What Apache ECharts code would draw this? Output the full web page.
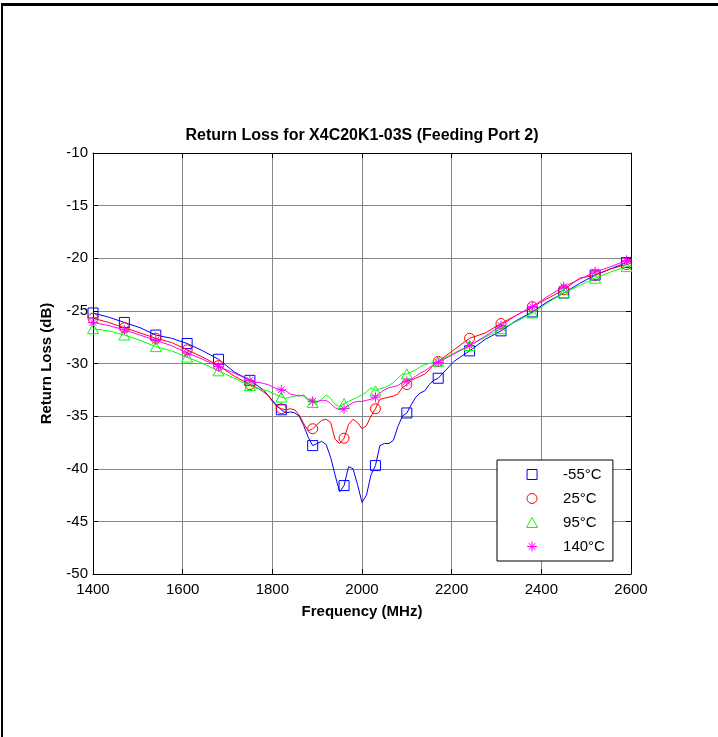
<!DOCTYPE html>
<html>
<head>
<meta charset="utf-8">
<title>Return Loss for X4C20K1-03S (Feeding Port 2)</title>
<script src="https://cdn.jsdelivr.net/npm/echarts@6/dist/echarts.min.js"></script>
<style>
  html, body { margin: 0; padding: 0; background: #fff; }
  #chart { position: absolute; left: 0; top: 0; width: 718px; height: 737px; }
  #frame { position: absolute; left: 1px; top: 3px; width: 717px; height: 734px;
           border-top: 3px solid #000; border-left: 2px solid #000; box-sizing: border-box;
           pointer-events: none; }
</style>
</head>
<body>
<div id="chart"></div>
<div id="frame"></div>
<script>
// Frequency grid (MHz): coarse on the flanks, 10 MHz through the resonance dip
const FREQ = [
  1400, 1435, 1470, 1505, 1540, 1575, 1610, 1645, 1680, 1715,
  1750, 1760, 1770, 1780, 1790, 1800, 1810, 1820, 1830, 1840, 1850, 1860, 1870, 1880,
  1890, 1900, 1910, 1920, 1930, 1940, 1950, 1960, 1970, 1980, 1990, 2000, 2010, 2020,
  2030, 2040, 2050, 2060, 2070, 2080, 2090, 2100, 2110, 2120, 2130, 2140, 2150, 2160,
  2170, 2205, 2240, 2275, 2310, 2345, 2380, 2415, 2450, 2485, 2520, 2555, 2590, 2600
];

// Return loss (dB) per temperature
const RL_M55 = [
  -25.2, -25.6, -26.1, -26.6, -27.3, -27.6, -28.1, -28.8, -29.6, -30.8,
  -31.6, -31.9, -32.2, -32.5, -33.0, -33.5, -34.0, -34.4, -34.7, -34.6, -34.7, -35.0, -35.9, -37.0,
  -37.8, -37.6, -37.4, -37.7, -38.9, -40.6, -42.2, -41.6, -39.8, -40.0, -41.5, -43.2, -42.5, -40.6,
  -39.7, -37.8, -37.6, -37.6, -37.3, -36.0, -35.0, -34.7, -33.9, -33.2, -32.8, -32.6, -32.0, -31.6,
  -31.4, -29.8, -28.8, -27.7, -26.9, -25.9, -25.1, -24.1, -23.3, -22.4, -21.6, -21.0, -20.4, -20.3
];
const RL_25 = [
  -25.7, -26.1, -26.6, -27.1, -27.6, -28.0, -28.7, -29.4, -30.2, -31.2,
  -32.0, -32.2, -32.4, -32.7, -33.0, -33.6, -34.1, -34.3, -34.4, -34.3, -34.4, -34.9, -35.7, -36.4,
  -36.2, -35.8, -35.4, -35.3, -35.6, -37.2, -37.6, -37.1, -35.8, -35.3, -35.6, -36.2, -35.9, -35.0,
  -34.3, -33.4, -33.3, -33.2, -33.1, -32.9, -32.3, -32.0, -31.6, -31.4, -31.2, -31.0, -30.6, -30.1,
  -29.8, -28.7, -27.6, -27.1, -26.2, -25.4, -24.6, -23.8, -23.0, -21.9, -21.6, -21.0, -20.6, -20.5
];
const RL_95 = [
  -26.7, -26.9, -27.3, -27.8, -28.4, -28.8, -29.4, -30.0, -30.7, -31.4,
  -32.1, -32.3, -32.4, -32.5, -32.6, -32.8, -33.0, -33.2, -33.3, -33.2, -33.1, -33.0, -33.1, -33.5,
  -33.7, -33.7, -33.4, -33.0, -33.3, -33.9, -34.1, -33.8, -33.6, -33.4, -33.2, -33.0, -32.7, -32.3,
  -32.6, -32.4, -32.3, -32.1, -31.8, -31.4, -31.0, -31.0, -30.8, -30.6, -30.3, -30.1, -30.0, -29.9,
  -29.8, -29.0, -28.3, -27.5, -26.7, -26.0, -25.2, -24.2, -23.3, -22.6, -21.9, -21.3, -20.8, -20.7
];
const RL_140 = [
  -26.1, -26.4, -26.8, -27.3, -27.8, -28.3, -29.0, -29.6, -30.3, -30.9,
  -31.6, -31.8, -31.8, -31.9, -32.0, -32.2, -32.4, -32.5, -32.6, -32.9, -33.0, -33.1, -33.0, -33.4,
  -33.6, -33.6, -33.5, -33.5, -33.8, -34.2, -34.4, -34.3, -34.0, -33.7, -33.6, -33.6, -33.5, -33.4,
  -33.2, -32.8, -32.5, -32.3, -32.2, -32.1, -31.8, -31.7, -31.5, -31.2, -30.9, -30.7, -30.4, -30.1,
  -29.9, -29.1, -28.3, -27.4, -26.4, -25.4, -24.6, -23.6, -22.7, -22.0, -21.3, -20.8, -20.2, -20.1
];

// Frequencies at which a marker is drawn on each trace
const MARKER_FREQ = [1400, 1470, 1540, 1610, 1680, 1750, 1820, 1890, 1960,
                     2030, 2100, 2170, 2240, 2310, 2380, 2450, 2520, 2590];

const LABELS = ['-55°C', '25°C', '95°C', '140°C'];
const COLORS = ['#0000ff', '#ff0000', '#00ff00', '#ff00ff'];
// Square, circle, triangle and asterisk outlines (paths keep their aspect in the legend)
const SYMBOLS = [
  'path://M0,0L10,0L10,10L0,10Z',
  'circle',
  'path://M5,0L10,9L0,9Z',
  'path://M5,0L5,10M0,5L10,5M1.6,1.6L8.4,8.4M1.6,8.4L8.4,1.6'
];
const SYMBOL_SIZES = [10, 10, 11, 10];
const TRACES = [RL_M55, RL_25, RL_95, RL_140];

const FONT = '"Liberation Sans", Arial, Helvetica, sans-serif';

const pairs = (vals) => FREQ.map((f, i) => [f, vals[i]]);
const markerPairs = (vals) => MARKER_FREQ.map((f) => [f, vals[FREQ.indexOf(f)]]);

const series = [];
TRACES.forEach((vals, k) => {
  series.push({
    type: 'line',
    name: LABELS[k] + ' trace',
    data: pairs(vals),
    showSymbol: false,
    symbol: 'none',
    lineStyle: { color: COLORS[k], width: 1 },
    itemStyle: { color: COLORS[k] },
    silent: true,
    z: 2 + k * 2
  });
  series.push({
    type: 'scatter',
    name: LABELS[k],
    data: markerPairs(vals),
    symbol: SYMBOLS[k],
    symbolSize: SYMBOL_SIZES[k],
    symbolKeepAspect: true,
    itemStyle: { color: 'rgba(255,255,255,0)', borderColor: COLORS[k], borderWidth: 1, opacity: 1 },
    silent: true,
    z: 3 + k * 2
  });
});

const axisText = { color: '#000', fontFamily: FONT, fontSize: 15 };
const nameText = { color: '#000', fontFamily: FONT, fontSize: 15, fontWeight: 'bold' };
const boxLine = { show: true, onZero: false, lineStyle: { color: '#000', width: 1 } };
const innerTick = { show: true, inside: true, length: 5, lineStyle: { color: '#000', width: 1 } };
const gridLine = { show: true, lineStyle: { color: '#858585', width: 1 } };

const option = {
  animation: false,
  backgroundColor: '#fff',
  title: {
    text: 'Return Loss for X4C20K1-03S (Feeding Port 2)',
    left: 362,
    top: 128,
    padding: 0,
    textAlign: 'center',
    textStyle: { color: '#000', fontFamily: FONT, fontSize: 16, fontWeight: 'bold' }
  },
  grid: { left: 93, right: 87, top: 153, bottom: 163, containLabel: false },
  legend: {
    data: LABELS,
    orient: 'vertical',
    left: 497,
    top: 460,
    padding: [7, 8, 7, 29],
    itemWidth: 32,
    itemHeight: 10,
    itemGap: 9,
    symbolKeepAspect: true,
    borderColor: '#000',
    borderWidth: 1,
    borderRadius: 0,
    backgroundColor: '#fff',
    selectedMode: false,
    itemStyle: { borderWidth: 1 },
    textStyle: { color: '#000', fontFamily: FONT, fontSize: 15, lineHeight: 14, padding: [0, 0, 0, 10] }
  },
  xAxis: [
    {
      type: 'value', min: 1400, max: 2600, interval: 200,
      name: 'Frequency (MHz)', nameLocation: 'middle', nameGap: 30,
      nameTextStyle: nameText,
      axisLine: boxLine, axisTick: innerTick,
      axisLabel: Object.assign({ margin: 8, formatter: (v) => String(v) }, axisText),
      splitLine: gridLine
    },
    {
      type: 'value', position: 'top', min: 1400, max: 2600, interval: 200,
      axisLine: boxLine, axisTick: innerTick,
      axisLabel: { show: false }, splitLine: { show: false }
    }
  ],
  yAxis: [
    {
      type: 'value', min: -50, max: -10, interval: 5,
      name: 'Return Loss (dB)', nameLocation: 'middle', nameGap: 39,
      nameTextStyle: nameText,
      axisLine: boxLine, axisTick: innerTick,
      axisLabel: Object.assign({ margin: 5, formatter: (v) => String(v) }, axisText),
      splitLine: gridLine
    },
    {
      type: 'value', position: 'right', min: -50, max: -10, interval: 5,
      axisLine: boxLine, axisTick: innerTick,
      axisLabel: { show: false }, splitLine: { show: false }
    }
  ],
  series: series
};

const chart = echarts.init(document.getElementById('chart'), null, { renderer: 'canvas' });
chart.setOption(option);
</script>
</body>
</html>
